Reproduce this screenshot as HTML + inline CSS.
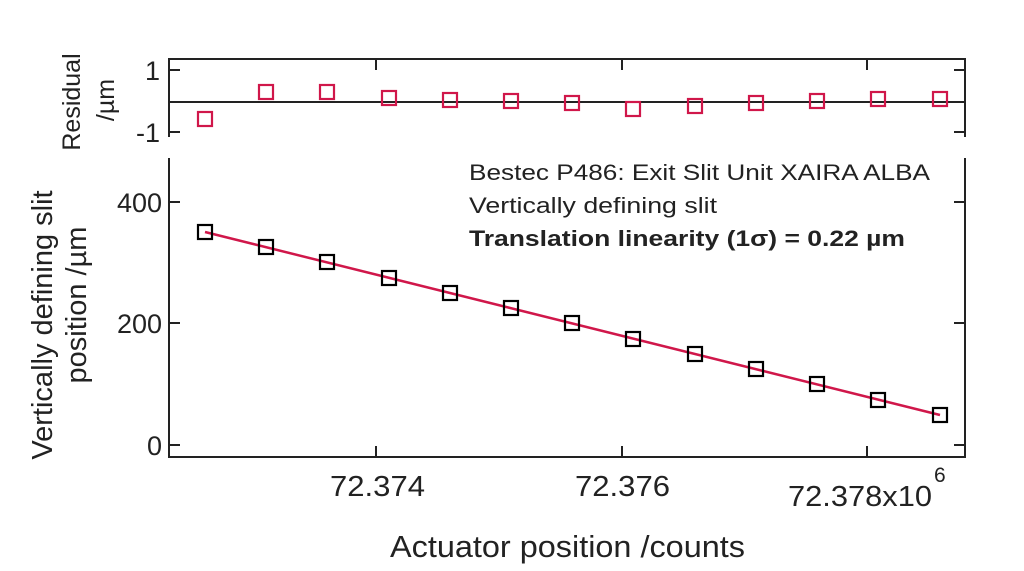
<!DOCTYPE html>
<html><head><meta charset="utf-8"><style>
body{margin:0;background:#fff}
text{font-family:"Liberation Sans",sans-serif;fill:#222}
</style></head><body>
<svg width="1024" height="566" viewBox="0 0 1024 566" xmlns="http://www.w3.org/2000/svg">
<g stroke="#222" stroke-width="2" fill="none">
<path d="M169,137 V59 H965 V137"/>
<line x1="169" y1="102" x2="965" y2="102"/>
<path d="M169,70 h11 M169,132 h11 M965,70 h-11 M965,132 h-11 M376,59 v11 M622,59 v11 M867,59 v11"/>
<path d="M169,158 V457 H965 V158"/>
<path d="M169,202 h11 M169,323 h11 M169,445 h11 M965,202 h-11 M965,323 h-11 M965,445 h-11 M376,457 v-11 M622,457 v-11 M867,457 v-11"/>
</g>
<line x1="205" y1="232" x2="940" y2="415" stroke="#d0174a" stroke-width="2.5"/>
<g stroke="#000" stroke-width="2.2" fill="none">
<rect x="198" y="225" width="14" height="14"/><rect x="259" y="240" width="14" height="14"/><rect x="320" y="255" width="14" height="14"/><rect x="382" y="271" width="14" height="14"/><rect x="443" y="286" width="14" height="14"/><rect x="504" y="301" width="14" height="14"/><rect x="565" y="316" width="14" height="14"/><rect x="626" y="332" width="14" height="14"/><rect x="688" y="347" width="14" height="14"/><rect x="749" y="362" width="14" height="14"/><rect x="810" y="377" width="14" height="14"/><rect x="871" y="393" width="14" height="14"/><rect x="933" y="408" width="14" height="14"/>
</g>
<g stroke="#d0174a" stroke-width="2.2" fill="none">
<rect x="198" y="112" width="14" height="14"/><rect x="259" y="85" width="14" height="14"/><rect x="320" y="85" width="14" height="14"/><rect x="382" y="91" width="14" height="14"/><rect x="443" y="93" width="14" height="14"/><rect x="504" y="94" width="14" height="14"/><rect x="565" y="96" width="14" height="14"/><rect x="626" y="102" width="14" height="14"/><rect x="688" y="99" width="14" height="14"/><rect x="749" y="96" width="14" height="14"/><rect x="810" y="94" width="14" height="14"/><rect x="871" y="92" width="14" height="14"/><rect x="933" y="92" width="14" height="14"/>
</g>
<g font-size="27" text-anchor="end">
<text x="160" y="80">1</text><text x="160" y="142">-1</text>
<text x="162" y="212">400</text><text x="162" y="333">200</text><text x="162" y="455">0</text>
</g>
<g font-size="29">
<text x="330" y="496" textLength="95" lengthAdjust="spacingAndGlyphs">72.374</text>
<text x="575" y="496" textLength="95" lengthAdjust="spacingAndGlyphs">72.376</text>
<text x="788" y="506" textLength="144" lengthAdjust="spacingAndGlyphs">72.378x10</text>
</g>
<text x="934" y="482" font-size="21">6</text>
<text x="390" y="557" font-size="31" textLength="355" lengthAdjust="spacingAndGlyphs">Actuator position /counts</text>
<g transform="translate(52,325) rotate(-90)"><text font-size="29" text-anchor="middle">Vertically defining slit</text></g>
<g transform="translate(86,305) rotate(-90)"><text font-size="29" text-anchor="middle">position /µm</text></g>
<g transform="translate(80,102) rotate(-90)"><text font-size="25" text-anchor="middle">Residual</text></g>
<g transform="translate(114,100) rotate(-90)"><text font-size="25" text-anchor="middle">/µm</text></g>
<text x="469" y="180" font-size="22" textLength="461" lengthAdjust="spacingAndGlyphs">Bestec P486: Exit Slit Unit XAIRA ALBA</text>
<text x="469" y="213" font-size="22" textLength="248" lengthAdjust="spacingAndGlyphs">Vertically defining slit</text>
<text x="469" y="246" font-size="22" font-weight="bold" textLength="436" lengthAdjust="spacingAndGlyphs">Translation linearity (1σ) = 0.22 µm</text>
</svg>
</body></html>
